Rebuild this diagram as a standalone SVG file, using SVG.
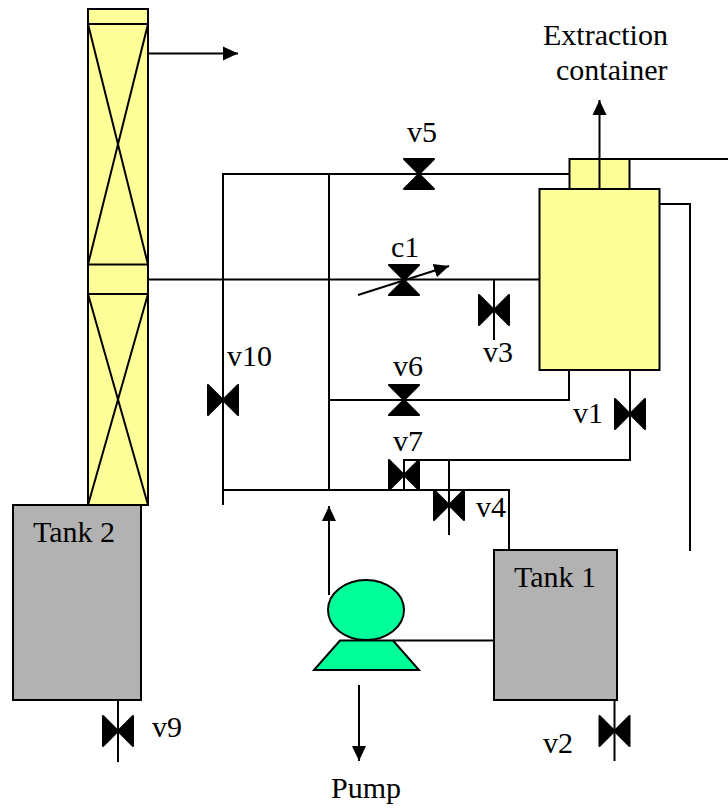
<svg xmlns="http://www.w3.org/2000/svg" width="728" height="809" viewBox="0 0 728 809">
<defs>
<style>
text{font-family:"Liberation Serif","Times New Roman",serif;font-size:30px;fill:#000}
.e{stroke:#000;stroke-width:2}
.y{fill:#ffff99}
.g{fill:#b2b2b2}
.p{fill:#00ff99}
.l{fill:none;stroke:#000;stroke-width:2}
.v{fill:#000;stroke:#000;stroke-width:2;stroke-linejoin:round}
</style>
<marker id="a" markerUnits="userSpaceOnUse" markerWidth="16" markerHeight="16" refX="15" refY="8" orient="auto"><path d="M0 1 L15 8 L0 15 Z" fill="#000"/></marker>
<path id="vv" class="v" d="M-15 -15H15L-15 15H15Z"/>
<path id="vh" class="v" d="M-15 -15V15L15 -15V15Z"/>
</defs>
<rect width="728" height="809" fill="#fff"/>
<g id="connectors" class="l">
<path d="M148 53.500H238" marker-end="url(#a)"/>
<path d="M223 505V174H569"/>
<path d="M329 490V174"/>
<path d="M148 279.500H539"/>
<path d="M358 295L449 266" marker-end="url(#a)"/>
<path d="M494 279.500V340"/>
<path d="M329 400H569V370"/>
<path d="M630 370V460H404V490"/>
<path d="M449 460V535"/>
<path d="M223 490H509V550"/>
<path d="M329 595V506" marker-end="url(#a)"/>
<path d="M599.500 189V100" marker-end="url(#a)"/>
<path d="M630 159H728"/>
<path d="M660 204H690V551"/>
<path d="M393 640.500H494"/>
<path d="M359 685V761" marker-end="url(#a)"/>
<path d="M118 700V762"/>
<path d="M614.500 700V761"/>
</g>
<g id="column" class="e">
<rect class="y" x="88" y="9" width="60" height="496"/>
<path class="l" d="M88 24H148M88 264.500H148M88 294H148M88 24L148 264.500M148 24L88 264.500M88 294L148 505M148 294L88 505"/>
</g>
<g id="container" class="e">
<rect class="y" x="569.500" y="159" width="60" height="30"/>
<rect class="y" x="539.500" y="189" width="120" height="181"/>
<path class="l" d="M599.500 159V189"/>
</g>
<g id="tank2" class="e"><rect class="g" x="13" y="505" width="128" height="195"/></g>
<g id="tank1" class="e"><rect class="g" x="494" y="550" width="123" height="150"/></g>
<g id="pump" class="e">
<path class="p" d="M340 640.500H393L419 670H314Z"/>
<ellipse class="p" cx="366" cy="610" rx="38" ry="30"/>
</g>
<g id="valve-v5"><use href="#vv" x="419" y="174"/></g>
<g id="valve-c1"><use href="#vv" x="404" y="280"/></g>
<g id="valve-v3"><use href="#vh" x="494" y="310"/></g>
<g id="valve-v6"><use href="#vv" x="404" y="400"/></g>
<g id="valve-v10"><use href="#vh" x="223" y="400"/></g>
<g id="valve-v1"><use href="#vh" x="630" y="414"/></g>
<g id="valve-v7"><use href="#vh" x="404" y="475"/></g>
<g id="valve-v4"><use href="#vh" x="449" y="505"/></g>
<g id="valve-v9"><use href="#vh" x="118" y="731"/></g>
<g id="valve-v2"><use href="#vh" x="614.500" y="731"/></g>
<g id="labels">
<text x="543" y="45">Extraction</text>
<text x="556" y="80">container</text>
<text x="407" y="142">v5</text>
<text x="391" y="257">c1</text>
<text x="483" y="362">v3</text>
<text x="227" y="366">v10</text>
<text x="393" y="376">v6</text>
<text x="573" y="423">v1</text>
<text x="393" y="451">v7</text>
<text x="476" y="517">v4</text>
<text x="33" y="542">Tank 2</text>
<text x="514" y="587">Tank 1</text>
<text x="152" y="737">v9</text>
<text x="543" y="753">v2</text>
<text x="331" y="798">Pump</text>
</g>
</svg>
